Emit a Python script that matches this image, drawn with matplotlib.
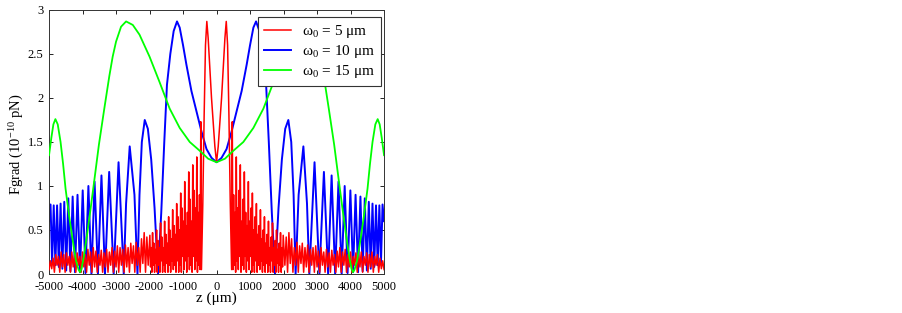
import numpy as np
import matplotlib
matplotlib.use('Agg')
import matplotlib.pyplot as plt

plt.rcParams.update({
    'font.family': 'serif',
    'font.serif': ['Liberation Serif', 'DejaVu Serif'],
    'mathtext.fontset': 'custom',
    'mathtext.rm': 'Liberation Serif',
    'mathtext.it': 'Liberation Serif:italic',
    'axes.unicode_minus': False,
})

# values read for z >= 0 (the curves are symmetric about z = 0)
# w0 = 5 um : central double peak, then dense oscillation band
red_center_z = [0, 50, 100, 150, 200, 250, 290, 330, 370, 410, 450]
red_center_f = [1.27, 1.45, 1.72, 2.0, 2.35, 2.68, 2.87, 2.6, 1.8, 0.8, 0.05]
red_mid_z = np.arange(470, 1991, 20)
red_mid_f = [
    1.73, 0.05, 0.9, 0.1, 0.7, 0.02,
    1.33, 0.15, 0.75, 0.05, 0.95, 0.2,
    1.24, 0.02, 0.6, 0.1, 0.85, 0.05,
    1.16, 0.2, 0.7, 0.02, 0.55, 0.15,
    1.05, 0.05, 0.6, 0.2, 0.75, 0.02,
    0.92, 0.1, 0.5, 0.02, 0.65, 0.15,
    0.8, 0.02, 0.45, 0.1, 0.55, 0.05,
    0.73, 0.15, 0.4, 0.02, 0.5, 0.1,
    0.65, 0.02, 0.35, 0.12, 0.45, 0.02,
    0.6, 0.1, 0.3, 0.02, 0.42, 0.15,
    0.58, 0.02, 0.3, 0.1, 0.38, 0.02,
    0.5, 0.12, 0.28, 0.02, 0.35, 0.1,
    0.47, 0.02, 0.3, 0.08, 0.44,
]
red_tail_z = np.arange(2040, 5001, 40)
red_tail_f = [
    0.1, 0.42, 0.02, 0.47, 0.12, 0.4, 0.02, 0.3, 0.1, 0.36,
    0.02, 0.32, 0.12, 0.35, 0.02, 0.3, 0.08, 0.33, 0.02, 0.28,
    0.1, 0.3, 0.02, 0.32, 0.08, 0.26, 0.02, 0.3, 0.1, 0.25,
    0.02, 0.28, 0.08, 0.24, 0.02, 0.27, 0.1, 0.22, 0.02, 0.26,
    0.08, 0.3, 0.02, 0.25, 0.1, 0.28, 0.02, 0.22, 0.08, 0.25,
    0.02, 0.2, 0.1, 0.24, 0.02, 0.22, 0.08, 0.25, 0.02, 0.2,
    0.1, 0.24, 0.02, 0.22, 0.08, 0.25, 0.02, 0.2, 0.1, 0.22,
    0.02, 0.18, 0.06, 0.15, 0.05,
]

# w0 = 10 um
blue_z = [0, 150, 300, 450, 600, 750, 900, 1000, 1100, 1180, 1280, 1380, 1480, 1560, 1650, 1746,
          1850, 1950, 2050, 2143, 2230, 2300, 2360, 2450, 2592, 2700, 2770,
          2925, 3070, 3205, 3330, 3435, 3540, 3640, 3735, 3825, 3912, 3995, 4075,
          4150, 4225, 4295, 4362, 4425, 4487, 4545, 4602, 4655, 4708, 4760, 4810,
          4860, 4908, 4955, 5000]
blue_f = [1.27, 1.32, 1.42, 1.62, 1.85, 2.08, 2.38, 2.6, 2.8, 2.87, 2.76, 2.5, 2.15, 1.5, 0.7, 0.0,
          0.75, 1.3, 1.65, 1.75, 1.5, 0.9, 0.0, 0.9, 1.45, 0.8, 0.0,
          1.27, 0.0, 1.16, 0.0, 1.12, 0.0, 1.05, 0.0, 1.0, 0.01, 0.95, 0.02,
          0.9, 0.02, 0.88, 0.03, 0.86, 0.04, 0.82, 0.06, 0.8, 0.08, 0.78, 0.1,
          0.78, 0.12, 0.79, 0.6]

# w0 = 15 um
green_z = [0, 250, 500, 800, 1100, 1400, 1700, 2000, 2300, 2500, 2700, 2850, 3000, 3100, 3200,
           3350, 3511, 3660, 3760, 3860, 3960, 4030, 4075, 4120, 4200, 4308, 4400, 4507, 4580,
           4656, 4740, 4810, 4870, 4930, 5000]
green_f = [1.27, 1.31, 1.4, 1.5, 1.66, 1.88, 2.18, 2.47, 2.72, 2.83, 2.87, 2.81, 2.64, 2.47, 2.25,
           1.88, 1.47, 1.03, 0.74, 0.46, 0.2, 0.06, 0.02, 0.05, 0.16, 0.42, 0.66, 0.97, 1.25,
           1.5, 1.7, 1.76, 1.7, 1.55, 1.35]

labels = [r'$\mathregular{\omega_0}$ = 5 μm', r'$\mathregular{\omega_0}$ = 10 μm',
          r'$\mathregular{\omega_0}$ = 15 μm']
xticks = np.arange(-5000, 5001, 1000)
yticks = [0, 0.5, 1, 1.5, 2, 2.5, 3]


def mirror(z, f):
    z = np.asarray(z, dtype=float)
    f = np.asarray(f, dtype=float)
    return np.concatenate([-z[::-1], z[1:]]), np.concatenate([f[::-1], f[1:]])


red_z, red_f = mirror(np.concatenate([red_center_z, red_mid_z, red_tail_z]),
                      np.concatenate([red_center_f, red_mid_f, red_tail_f]))
bz, bf = mirror(blue_z, blue_f)
gz, gf = mirror(green_z, green_f)

fig = plt.figure(figsize=(9.03, 3.13), dpi=100)
ax = fig.add_axes([0.0543, 0.1246, 0.3710, 0.8435])

l_red, = ax.plot(red_z, red_f, color='#ff0000', lw=1.1, zorder=3)
l_blue, = ax.plot(bz, bf, color='#0000ff', lw=1.4, zorder=2)
l_green, = ax.plot(gz, gf, color='#00ff00', lw=1.3, zorder=4)

ax.set_xlim(-5000, 5000)
ax.set_ylim(0, 3)
ax.set_xticks(xticks)
ax.set_xticklabels([str(t) for t in xticks])
ax.set_yticks(yticks)
ax.set_yticklabels(['0', '0.5', '1', '1.5', '2', '2.5', '3'])
ax.tick_params(direction='in', top=True, right=True, length=3, width=0.6,
               labelsize=9, pad=4)
ax.tick_params(axis='x', pad=5)
for s in ax.spines.values():
    s.set_linewidth(0.7)
    s.set_color('#333333')

ax.set_xlabel('z (μm)', fontsize=11, labelpad=-1)
ax.set_ylabel(r'Fgrad (10$^{\mathregular{-10}}$ pN)', fontsize=10.5)
ax.yaxis.set_label_coords(-0.068, 0.49)

leg = ax.legend([l_red, l_blue, l_green], labels, loc='upper right',
                bbox_to_anchor=(0.991, 0.973), borderaxespad=0, fontsize=11,
                handlelength=1.8, handletextpad=0.7, labelspacing=0.2,
                borderpad=0.4, fancybox=False, framealpha=1)
leg.get_frame().set_edgecolor('#333333')
leg.get_frame().set_linewidth(0.8)

fig.savefig('out.png', dpi=100)
